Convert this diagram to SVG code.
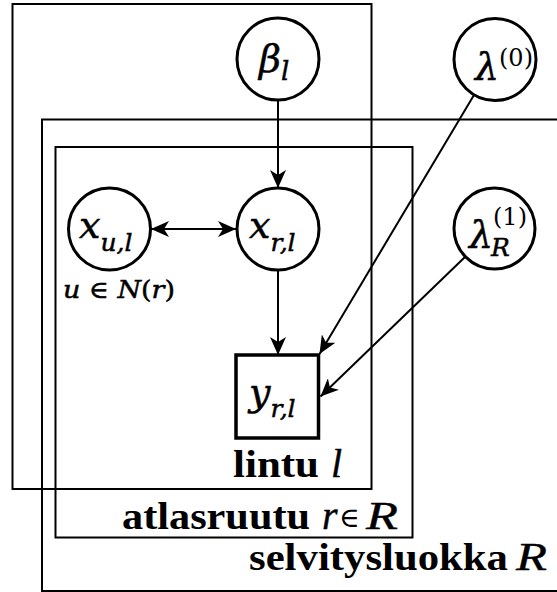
<svg xmlns="http://www.w3.org/2000/svg" width="557" height="592" viewBox="0 0 557 592">
<style>
.plate{fill:none;stroke:#000;stroke-width:2}
.node{fill:#fff;stroke:#000;stroke-width:3}
.obs{fill:#fff;stroke:#000;stroke-width:3.5}
.edge{fill:none;stroke:#000;stroke-width:2}
.m{font-family:"DejaVu Serif","Liberation Serif",serif;font-style:italic;fill:#000;stroke:#000;stroke-width:0.5}
.lbl{font-family:"Liberation Serif","DejaVu Serif",serif;font-weight:bold;fill:#000}
.lm{font-family:"Liberation Serif","DejaVu Serif",serif;font-style:italic;fill:#000;stroke:#000;stroke-width:0.4}
.sup{font-family:"DejaVu Serif","Liberation Serif",serif;fill:#000}
</style>
<defs>
<marker id="ah" viewBox="0 0 18 16" refX="18" refY="8" markerWidth="18" markerHeight="16" markerUnits="userSpaceOnUse" orient="auto-start-reverse">
<path d="M0,0 L18,8 L0,16 L5,8 Z" fill="#000"/>
</marker>
</defs>
<g id="plate-lintu">
<rect class="plate" x="12.5" y="4" width="359" height="485"/>
<text class="lbl" x="233" y="477" font-size="38" textLength="86" lengthAdjust="spacingAndGlyphs">lintu</text>
<text class="lm" x="331" y="477" font-size="40">l</text>
</g>
<g id="plate-selvitysluokka">
<path class="plate" d="M560,119.5 H42 V591 H560"/>
<text class="lbl" x="249" y="570" font-size="38" textLength="259" lengthAdjust="spacingAndGlyphs">selvitysluokka</text>
<text class="lm" x="516" y="570" font-size="40" textLength="31" lengthAdjust="spacingAndGlyphs">R</text>
</g>
<g id="plate-atlasruutu">
<rect class="plate" x="55.5" y="147" width="357" height="390.5"/>
<text class="lbl" x="122" y="529" font-size="38" textLength="188" lengthAdjust="spacingAndGlyphs">atlasruutu</text>
<text class="lm" x="322" y="529" font-size="40">r</text>
<text class="sup" x="339" y="527" font-size="28">∈</text>
<text class="lm" x="366" y="529" font-size="40" textLength="32" lengthAdjust="spacingAndGlyphs">R</text>
</g>
<g id="connectors">
<line class="edge" x1="278" y1="100" x2="278" y2="188" marker-end="url(#ah)"/>
<line class="edge" x1="151" y1="229" x2="236" y2="229" marker-start="url(#ah)" marker-end="url(#ah)"/>
<line class="edge" x1="278" y1="270" x2="278" y2="355" marker-end="url(#ah)"/>
<line class="edge" x1="474" y1="95" x2="319.5" y2="354" marker-end="url(#ah)"/>
<line class="edge" x1="465" y1="257" x2="320.5" y2="396.5" marker-end="url(#ah)"/>
</g>
<g id="node-beta">
<circle class="node" cx="278" cy="59" r="41"/>
<text class="m" x="259" y="72" font-size="38">β<tspan font-size="26" dy="8">l</tspan></text>
</g>
<g id="node-lambda0">
<circle class="node" cx="495" cy="59.5" r="41"/>
<text class="m" x="475" y="80" font-size="38">λ</text>
<text class="sup" x="499" y="66" font-size="24">(0)</text>
</g>
<g id="node-xu">
<circle class="node" cx="109.5" cy="229" r="41"/>
<text class="m" x="79" y="238" font-size="38">x<tspan font-size="25" dy="13">u,l</tspan></text>
</g>
<text class="m" x="63" y="298" font-size="24" textLength="112" lengthAdjust="spacingAndGlyphs">u <tspan font-style="normal">∈</tspan> N<tspan font-style="normal">(</tspan>r<tspan font-style="normal">)</tspan></text>
<g id="node-xr">
<circle class="node" cx="278" cy="229" r="41"/>
<text class="m" x="249" y="238" font-size="38">x<tspan font-size="25" dy="13">r,l</tspan></text>
</g>
<g id="node-lambdaR">
<circle class="node" cx="494.5" cy="228.5" r="40.5"/>
<text class="m" x="469" y="248" font-size="38">λ</text>
<text class="sup" x="493" y="225" font-size="24">(1)</text>
<text class="m" x="491" y="256" font-size="25">R</text>
</g>
<g id="node-y">
<rect class="obs" x="236" y="355" width="82.5" height="83"/>
<text class="m" x="249" y="405" font-size="38">y<tspan font-size="25" dy="12">r,l</tspan></text>
</g>
</svg>
